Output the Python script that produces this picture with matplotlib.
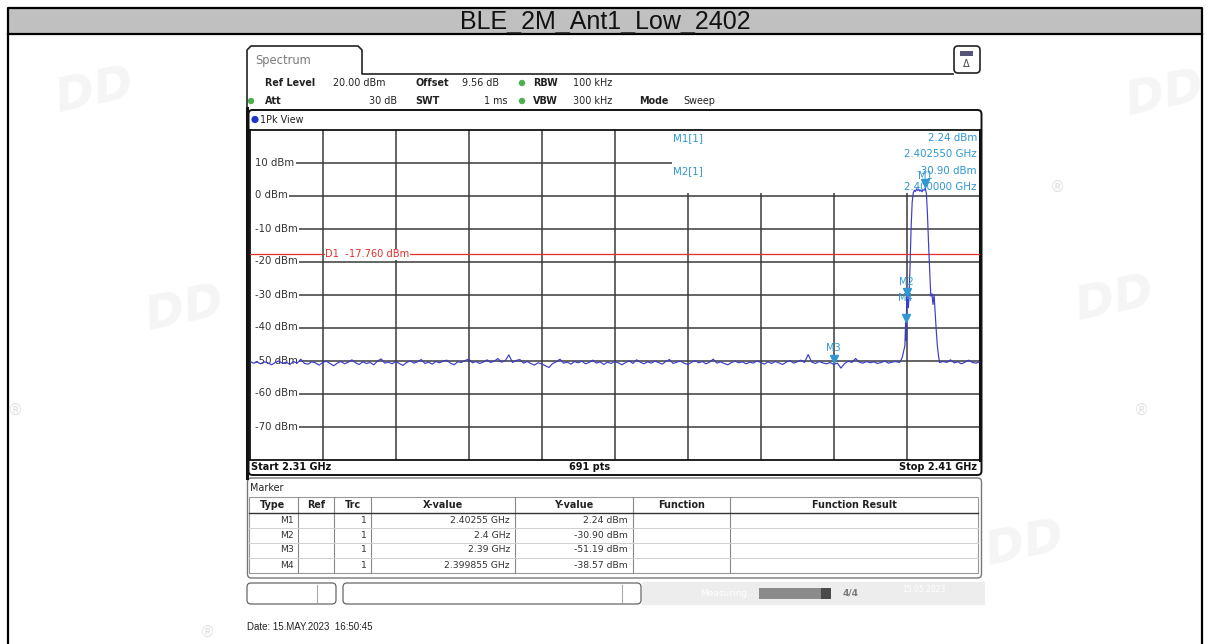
import numpy as np
import matplotlib.pyplot as plt
from matplotlib.patches import Rectangle, FancyBboxPatch, Circle
from matplotlib.transforms import offset_copy

W, H = 1210, 644

title = 'BLE_2M_Ant1_Low_2402'

start_ghz, stop_ghz = 2.31, 2.41
level_ticks = [10, 0, -10, -20, -30, -40, -50, -60, -70]
freq_grid = [2.32, 2.33, 2.34, 2.35, 2.36, 2.37, 2.38, 2.39, 2.40]
d1_level = -17.76

# noise floor, 2.310 .. 2.399 GHz every 0.5 MHz
noise_left_dbm = [
    -50.2, -50.8, -50.5, -51.0, -50.4, -50.7, -51.3, -50.6, -50.1, -50.9,
    -50.5, -51.2, -50.3, -50.8, -49.6, -50.9, -51.1, -50.4, -50.7, -51.4,
    -50.6, -50.2, -50.9, -51.6, -50.8, -50.3, -51.0, -50.5, -49.8, -50.7,
    -51.2, -50.4, -50.9, -50.6, -51.3, -50.2, -49.5, -50.8, -50.5, -51.0,
    -50.3, -50.9, -51.5, -50.6, -50.1, -50.8, -50.4, -49.7, -50.9, -50.5,
    -51.1, -50.3, -50.7, -50.2, -49.9, -50.8, -51.3, -50.4, -50.6, -50.0,
    -49.6, -50.7, -50.3, -50.9, -50.5, -49.8, -50.6, -50.2, -49.4, -50.5,
    -50.1, -48.3, -50.6, -50.0, -49.7, -50.8, -50.3, -50.9, -51.4, -50.7,
    -51.0, -51.6, -52.1, -50.9, -50.4, -49.6, -50.8, -50.5, -51.1, -50.3,
    -50.7, -50.2, -51.0, -50.6, -49.9, -50.8, -50.4, -51.2, -50.5, -50.9,
    -50.3, -50.7, -51.3, -50.6, -50.1, -50.9, -49.8, -50.5, -51.0, -50.4,
    -50.8, -50.2, -50.6, -51.1, -50.3, -49.7, -50.9, -50.5, -50.2, -50.8,
    -51.2, -50.6, -50.0, -50.7, -50.3, -51.0, -50.5, -49.6, -50.8, -50.4,
    -50.9, -51.3, -50.6, -50.2, -50.7, -50.4, -51.0, -50.5, -50.8, -50.1,
    -50.6, -51.1, -50.4, -50.9, -50.3, -50.7, -51.2, -50.5, -50.0, -50.8,
    -50.4, -49.9, -50.6, -48.2, -50.5, -50.9, -50.3, -50.7, -51.0, -50.6,
    -51.19, -50.8, -52.3, -50.9, -50.2, -50.6, -49.4, -50.5, -50.8, -50.3,
    -50.7, -50.4, -50.9, -50.6, -50.2, -50.8, -50.5, -50.3, -50.6,
]

# the burst around 2.4 GHz
signal_ghz = [2.3992, 2.3994, 2.3996, 2.39975, 2.39985, 2.39992, 2.4000,
              2.40007, 2.40015, 2.40022, 2.4003, 2.40045, 2.4006, 2.40075,
              2.4009, 2.40105, 2.4012, 2.40135, 2.4015, 2.40165, 2.4018,
              2.40195, 2.4021, 2.40225, 2.4024, 2.40255, 2.4027, 2.40285,
              2.4030, 2.40315, 2.4033, 2.40345, 2.4036, 2.40375, 2.4039,
              2.40405, 2.4042, 2.40435, 2.4045]
signal_dbm = [-50.0, -49.0, -47.0, -45.5, -38.57, -44.0, -30.90,
              -33.5, -31.0, -34.0, -31.5, -22.0, -10.0, -2.0,
              0.8, 1.6, 1.2, 2.0, 1.5, 1.9, 1.3,
              1.7, 1.1, 1.8, 1.6, 2.24, 0.5, -6.0,
              -15.0, -23.0, -30.5, -29.8, -33.0, -30.0, -35.5,
              -41.0, -45.5, -48.5, -50.6]

# noise floor 2.405 .. 2.410 GHz every 0.5 MHz
noise_right_dbm = [-50.3, -50.6, -49.8, -50.7, -50.4, -51.0, -50.5,
                   -49.9, -50.6, -50.8, -50.4]

marker_names = ['M1', 'M2', 'M3', 'M4']
marker_ghz = [2.40255, 2.4, 2.39, 2.399855]
marker_dbm = [2.24, -30.90, -51.19, -38.57]
marker_x_text = ['2.40255 GHz', '2.4 GHz', '2.39 GHz', '2.399855 GHz']
marker_y_text = ['2.24 dBm', '-30.90 dBm', '-51.19 dBm', '-38.57 dBm']

table_cols = ['Type', 'Ref', 'Trc', 'X-value', 'Y-value', 'Function', 'Function Result']

trace_ghz = np.concatenate([np.linspace(2.310, 2.399, len(noise_left_dbm)),
                            signal_ghz,
                            np.linspace(2.405, 2.410, len(noise_right_dbm))])
trace_dbm = np.concatenate([noise_left_dbm, signal_dbm, noise_right_dbm])

BLUE_T = '#3b3bcc'
MK = '#2f97d2'
GRID = '#3a3a3a'
FONT = 'DejaVu Sans'


def box(x0, y0, x1, y1):
    return [x0 / W, 1 - y1 / H, (x1 - x0) / W, (y1 - y0) / H]


fig = plt.figure(figsize=(W / 100, H / 100), dpi=100)

bg = fig.add_axes([0, 0, 1, 1], zorder=0)
bg.set_xlim(0, W)
bg.set_ylim(H, 0)
bg.axis('off')

fg = fig.add_axes([0, 0, 1, 1], zorder=3)
fg.set_xlim(0, W)
fg.set_ylim(H, 0)
fg.axis('off')
fg.patch.set_visible(False)

# outer page frame and title band
bg.add_patch(Rectangle((8, 8), 1194, 26, facecolor='#c0c0c0', edgecolor='none'))
bg.plot([8, 8, 1202, 1202], [H + 2, 8, 8, H + 2], color='black', lw=1.6)
bg.plot([8, 1202], [34, 34], color='black', lw=1.6)
bg.text(605, 21.5, title, ha='center', va='center', fontsize=18,
        family='Liberation Sans', color='#111111')

# faint watermarks
for x, y in [(95, 92), (1165, 95), (185, 310), (1025, 545), (1115, 300)]:
    bg.text(x, y, 'DD', fontsize=34, fontweight='bold', style='italic',
            color='#f5f5f5', ha='center', va='center', rotation=12)
for x, y in [(1057, 187), (16, 410), (1141, 410), (208, 632)]:
    bg.text(x, y, '\u00ae', fontsize=11, color='#e2e2e2', ha='center', va='center')

# Spectrum tab and header frame
bg.plot([247, 247, 251, 358, 362, 362, 953], [112, 50, 46, 46, 50, 74, 74], color='#222222', lw=1.2)
bg.add_patch(FancyBboxPatch((954, 46), 26, 27, boxstyle='round,pad=0,rounding_size=4',
                            facecolor='white', edgecolor='#222222', lw=1.2))
bg.add_patch(Rectangle((960, 51), 13, 5, facecolor='#555577', edgecolor='none'))
bg.text(966.5, 64, '\u0394', fontsize=7, ha='center', va='center', color='#444444', family=FONT)
bg.text(255, 60, 'Spectrum', fontsize=8.3, color='#7a7a7a', va='center', family=FONT)

hdr = dict(fontsize=6.9, va='center', family=FONT, color='#222222')
bg.text(265, 83, 'Ref Level', fontweight='bold', **hdr)
bg.text(333, 83, '20.00 dBm', **hdr)
bg.text(415, 83, 'Offset', fontweight='bold', **hdr)
bg.text(462, 83, '9.56 dB', **hdr)
bg.text(533, 83, 'RBW', fontweight='bold', **hdr)
bg.text(573, 83, '100 kHz', **hdr)
bg.text(265, 101, 'Att', fontweight='bold', **hdr)
bg.text(397, 101, '30 dB', ha='right', **hdr)
bg.text(415, 101, 'SWT', fontweight='bold', **hdr)
bg.text(508, 101, '1 ms', ha='right', **hdr)
bg.text(533, 101, 'VBW', fontweight='bold', **hdr)
bg.text(573, 101, '300 kHz', **hdr)
bg.text(639, 101, 'Mode', fontweight='bold', **hdr)
bg.text(683, 101, 'Sweep', **hdr)
for x, y in [(522, 83), (522, 101), (251, 101)]:
    bg.add_patch(Circle((x, y), 3.2, facecolor='#4cb050', edgecolor='none'))

# trace window frame
bg.add_patch(FancyBboxPatch((248.5, 110), 733, 365, boxstyle='round,pad=0,rounding_size=4',
                            facecolor='white', edgecolor='#111111', lw=1.4))
bg.plot([246.5, 246.5], [108, 478], color='#111111', lw=2.2)
bg.add_patch(Circle((255, 119.5), 3.6, facecolor='#2035c8', edgecolor='none'))
bg.text(260, 119.5, '1Pk View', fontsize=6.9, va='center', family=FONT, color='#222222')
bg.text(251, 467, 'Start 2.31 GHz', fontsize=7, fontweight='bold', va='center', family=FONT, color='#111111')
bg.text(590, 467, '691 pts', fontsize=7, fontweight='bold', va='center', ha='center', family=FONT, color='#111111')
bg.text(977, 467, 'Stop 2.41 GHz', fontsize=7, fontweight='bold', va='center', ha='right', family=FONT, color='#111111')

# spectrum axes
ax = fig.add_axes(box(249.7, 129.5, 979.7, 459.5), zorder=1)
ax.set_xlim(start_ghz, stop_ghz)
ax.set_ylim(-80, 20)
ax.set_xticks([])
ax.set_yticks([])
for s in ax.spines.values():
    s.set_color('#111111')
    s.set_linewidth(1.3)
ax.spines['right'].set_linewidth(2.2)

ax.vlines(freq_grid, -80, 20, color=GRID, lw=1.1, zorder=1)

labels = []
for lv in level_ticks:
    t = ax.text((255 - 249.7) / 730, lv, f'{lv} dBm', transform=ax.get_yaxis_transform(),
                fontsize=7.3, va='center', ha='left', family=FONT, color='#333333', zorder=4)
    labels.append(t)
fig.canvas.draw()
inv = ax.transData.inverted()
for lv, t in zip(level_ticks, labels):
    bb = t.get_window_extent()
    x_start = inv.transform((bb.x1 + 1.5, 0))[0]
    ax.hlines(lv, x_start, stop_ghz, color=GRID, lw=1.1, zorder=1)

# marker readout area
ax.add_patch(Rectangle((2.36785, 0.9), stop_ghz - 2.36785, 19.1, facecolor='white',
                       edgecolor='none', zorder=2))

ax.axhline(d1_level, color='#e0302c', lw=0.9, zorder=3)
ax.text((325 - 249.7) / 730, d1_level, 'D1  -17.760 dBm', transform=ax.get_yaxis_transform(),
        fontsize=7.1, va='center', ha='left', family=FONT, color='#e0302c', zorder=4,
        bbox=dict(facecolor='white', edgecolor='none', pad=0.3))

ax.plot(trace_ghz, trace_dbm, color=BLUE_T, lw=0.85, zorder=5)

tri = offset_copy(ax.transData, fig=fig, x=0, y=5, units='dots')
label_dy = [12, 15, 16, 25]
for name, f, v, dy in zip(marker_names, marker_ghz, marker_dbm, label_dy):
    ax.plot(f, v, marker='v', ms=5.5, color=MK, transform=tri, zorder=6, clip_on=False)
    lt = offset_copy(ax.transData, fig=fig, x=0, y=dy, units='dots')
    ax.text(f, v, name, transform=lt, fontsize=7, color=MK, ha='center', va='center',
            family=FONT, zorder=6)

mtxt = dict(fontsize=7.4, va='center', family=FONT, color=MK)
fg.text(673, 138, 'M1[1]', **mtxt)
fg.text(977, 138, '2.24 dBm', ha='right', **mtxt)
fg.text(977, 154, '2.402550 GHz', ha='right', **mtxt)
fg.text(673, 171, 'M2[1]', **mtxt)
fg.text(977, 171, '-30.90 dBm', ha='right', **mtxt)
fg.text(977, 187, '2.400000 GHz', ha='right', **mtxt)

# marker table
bg.add_patch(FancyBboxPatch((247.5, 478), 734, 100, boxstyle='round,pad=0,rounding_size=4',
                            facecolor='white', edgecolor='#777777', lw=1.0))
bg.text(250, 488, 'Marker', fontsize=6.9, va='center', family=FONT, color='#222222')
bg.add_patch(Rectangle((249, 497), 729, 76, facecolor='none', edgecolor='#999999', lw=0.8))
col_sep = [298, 334, 371, 515, 633, 730]
for x in col_sep:
    bg.plot([x, x], [497, 573], color='#888888', lw=0.8)
bg.plot([249, 978], [513, 513], color='#333333', lw=1.0)
for y in [528, 543, 557.5]:
    bg.plot([249, 978], [y, y], color='#d0d0d0', lw=0.7)
col_center = [273, 316, 352.5, 443, 574, 681.5, 854]
for x, c in zip(col_center, table_cols):
    bg.text(x, 505, c, fontsize=6.9, fontweight='bold', ha='center', va='center',
            family=FONT, color='#222222')
row_y = [520.5, 535.5, 550, 565]
cell = dict(fontsize=6.7, ha='right', va='center', family=FONT, color='#333333')
for y, name, xv, yv in zip(row_y, marker_names, marker_x_text, marker_y_text):
    bg.text(294, y, name, **cell)
    bg.text(367, y, '1', **cell)
    bg.text(510, y, xv, **cell)
    bg.text(628, y, yv, **cell)

# status bar
bg.add_patch(FancyBboxPatch((247, 583), 89, 21, boxstyle='round,pad=0,rounding_size=4',
                            facecolor='white', edgecolor='#666666', lw=0.9))
bg.plot([317, 317], [585, 602], color='#aaaaaa', lw=0.8)
bg.add_patch(FancyBboxPatch((343, 583), 298, 21, boxstyle='round,pad=0,rounding_size=4',
                            facecolor='white', edgecolor='#666666', lw=0.9))
bg.plot([622, 622], [585, 602], color='#aaaaaa', lw=0.8)
bg.add_patch(Rectangle((642, 582), 343, 23, facecolor='#ededed', edgecolor='none'))
bg.text(700, 593, 'Measuring...', fontsize=6.5, color='white', va='center', family=FONT)
bg.add_patch(Rectangle((759, 588), 62, 11, facecolor='#8a8a8a', edgecolor='none'))
bg.add_patch(Rectangle((821, 588), 10, 11, facecolor='#4a4a4a', edgecolor='none'))
bg.text(851, 593.5, '4/4', fontsize=6.5, color='#7a7a7a', ha='center', va='center',
        fontweight='bold', family=FONT)
bg.text(924, 590, '15.05.2023', fontsize=5.5, color='white', ha='center', va='center', family=FONT)

bg.text(247, 627, 'Date: 15.MAY.2023  16:50:45', fontsize=7, va='center',
        family='Liberation Sans', color='#222222')

fig.savefig('out.png', dpi=100)
